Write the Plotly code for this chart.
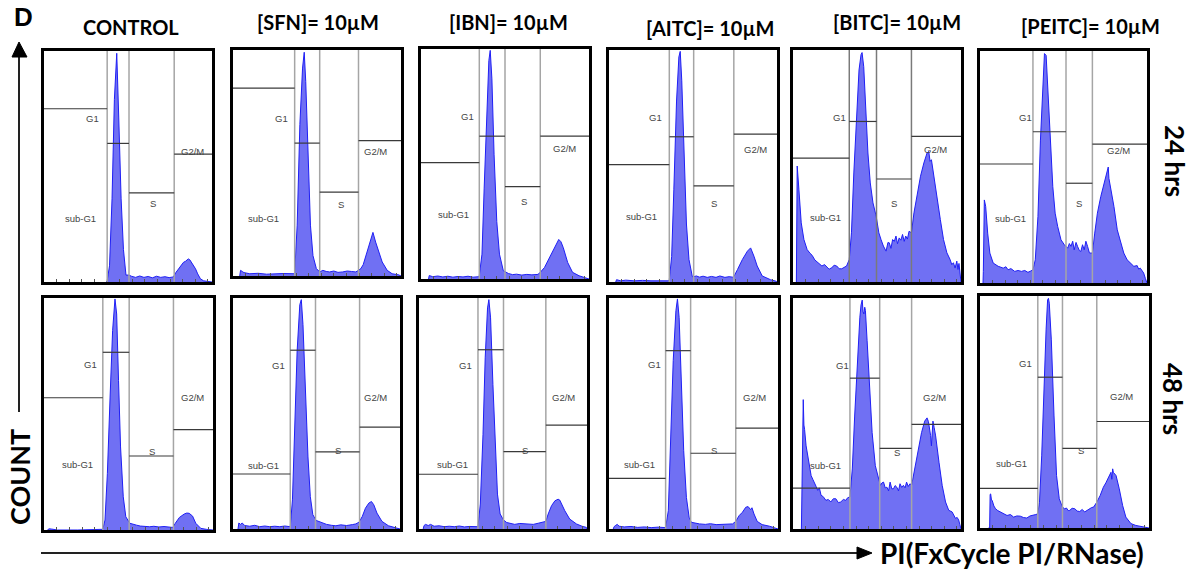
import plotly.graph_objects as go

W, H = 1195, 576

# ---------------- DATA ----------------
# PI channel (0-1000) vs. count (% of max)
ctrl24 = [(370,0),(376,0.5),(390,7),(405,36),(419,79),(433,99),(445,71),(459,36),(473,14),(488,3),(506,3),(520,2.5),(545,2),(570,2.6),(595,2),(620,2.4),(645,1.8),(670,2.5),(695,2),(720,2.3),(745,1.9),(770,2.2),(784,4),(800,5.5),(814,7),(830,8.5),(843,9),(859,10),(868,9.6),(878,8.6),(890,7),(902,5.7),(915,3.5),(931,1.4),(950,0.5),(975,0.3),(1000,0)]
sfn24 = [(40,0),(45,2.5),(55,2),(65,1.5),(100,1),(150,1.2),(200,0.8),(250,1),(300,1.1),(363,1),(367,1.5),(382,22.5),(398,67),(414,92),(424,99),(433,86),(447,52),(461,22.5),(476,9),(496,3.3),(516,1.8),(535,2.5),(555,2),(575,1.8),(600,2.2),(625,1.6),(653,1.8),(680,2.2),(705,2),(731,1.8),(747,2.5),(761,3.3),(775,5),(790,9),(805,13),(820,16.6),(833,19.3),(849,15),(869,10.7),(888,6.2),(918,2.5),(947,1),(986,0.5),(1000,0)]
ibn24 = [(45,0),(49,1.5),(70,1),(100,1.3),(130,0.9),(160,1.2),(190,0.8),(220,1.1),(250,0.9),(280,1.2),(310,0.8),(343,1),(347,1.5),(363,10.8),(376,39.5),(392,75),(404,95),(412,99.4),(422,87),(435,54),(451,25),(467,10.8),(490,3.6),(520,2.4),(545,1.9),(569,2.1),(600,1.7),(630,2),(660,1.8),(696,2),(710,2.9),(735,5),(765,9.3),(794,13.6),(820,17.2),(833,16.2),(847,13.6),(873,7.2),(902,2.9),(941,1.4),(990,0.5),(1000,0)]
aitc24 = [(40,0),(45,1),(70,0.5),(100,0.8),(150,0.5),(200,0.7),(250,0.5),(300,0.6),(355,0.5),(359,1),(373,11),(386,40),(402,78),(416,97),(424,99.4),(433,87),(445,57),(461,25),(476,9.7),(496,2.3),(504,2.3),(520,2.6),(539,2.1),(560,2.5),(585,2),(610,2.4),(637,2),(660,2.6),(690,2),(715,2.3),(735,2.1),(743,2.3),(765,5.4),(794,9.7),(824,13.3),(843,14.7),(863,11.1),(882,6.9),(912,2.6),(961,1),(996,0.3),(1000,0)]
bitc24 = [(20,0),(22,30),(25,50),(35,40),(49,25.5),(65,18.3),(84,14),(100,12.5),(114,11.5),(130,9.5),(143,8.6),(160,7.5),(172,6.9),(188,7.5),(202,6.6),(215,5.5),(231,6.2),(245,7.2),(260,6.9),(275,5.7),(290,5.7),(305,6.5),(319,6.9),(335,9.7),(348,21.2),(362,47),(378,72.8),(393,91.4),(405,98),(411,98.9),(421,92.8),(432,75.6),(446,55.6),(460,42.7),(476,34.1),(495,28.4),(511,21.2),(524,18.3),(538,15.5),(554,13.3),(565,17),(573,16.9),(583,14.5),(593,18.3),(603,17.5),(613,19.8),(622,16.5),(632,19),(642,18),(652,20.5),(662,17.5),(671,19.8),(681,18.5),(691,21.9),(705,21.2),(720,29.8),(740,38.4),(759,45.6),(779,51.3),(790,54.5),(798,55.6),(808,56.3),(816,52),(824,52.7),(838,45.6),(857,35.5),(877,26.9),(896,18.3),(916,12.6),(935,9.7),(945,7.5),(955,8.3),(965,6),(975,9),(982,5.4),(988,8),(992,5.4),(996,0),(1000,0)]
peitc24 = [(18,0),(20,5),(26,35.8),(34,33),(46,21.5),(59,12.9),(79,8.6),(95,7.8),(109,7.2),(125,6.8),(139,6.4),(155,7),(168,5.7),(185,6.2),(208,5),(228,5.4),(248,5),(268,5.4),(287,4.6),(305,5.2),(317,5.7),(331,10),(347,28.7),(362,61.6),(376,86),(386,98.9),(396,98.1),(406,84.5),(422,64.5),(436,41.5),(450,30.1),(465,24.4),(485,18.6),(505,16.5),(525,15),(535,17),(545,15.8),(555,18),(564,14.3),(575,17.5),(584,15.8),(595,14),(604,13.6),(614,16.5),(624,14.3),(634,18),(644,15.8),(655,13),(663,12.9),(673,12.9),(687,21.5),(703,30.1),(723,37.2),(743,43),(756,46),(762,48),(768,50),(772,45.1),(786,40.1),(802,33),(822,22.9),(842,17.2),(861,12.9),(881,10),(901,8.6),(921,7.2),(941,7.5),(950,6),(960,6.4),(970,5),(980,4.3),(990,2),(996,0.7),(1000,0)]
ctrl48 = [(20,0),(30,0.5),(45,0.4),(60,0.2),(80,0),(200,0),(300,0),(344,0),(348,0.3),(361,4.3),(375,24.4),(391,57.3),(406,86),(420,99.6),(430,93.1),(441,64.5),(453,35.8),(469,14.3),(484,5.7),(508,2.9),(530,2.3),(547,2.1),(570,1.7),(600,1.5),(625,1.4),(650,1.6),(680,1.3),(710,1.5),(740,1.2),(762,1.1),(777,2.9),(801,5.4),(830,6.9),(845,7.3),(859,7.2),(879,6),(898,2.9),(928,0.7),(960,0.3),(996,0.2),(1000,0)]
sfn48 = [(30,0),(35,2.6),(45,2),(55,2.6),(70,1.5),(100,1.2),(130,1.6),(160,1),(190,1.3),(220,1),(250,1.2),(280,1),(310,1.3),(331,1),(343,1),(356,12.6),(370,41.3),(384,77.1),(400,97.1),(409,99.3),(419,88.5),(435,55.6),(449,31.2),(463,14),(478,6.2),(498,3.7),(520,3),(537,2.6),(560,2),(590,1.6),(616,1.4),(645,1.8),(680,1.5),(715,1.9),(735,2.2),(754,2.9),(774,5.4),(793,9),(813,11.2),(829,11.9),(843,10.5),(862,6.9),(892,3.3),(931,1.4),(960,0.9),(990,0.5),(1000,0)]
ibn48 = [(25,0),(30,1.5),(39,2),(55,1.5),(69,2),(90,1.2),(120,1.4),(150,1),(180,1.2),(210,1),(240,1.3),(270,0.9),(300,1.1),(345,1),(351,1),(365,10.8),(381,41),(394,74.1),(408,95.7),(416,99.3),(426,91.4),(440,62.6),(454,33.8),(467,15.1),(483,6.5),(503,3.9),(522,2.8),(542,2.4),(570,2),(600,2.4),(641,2.2),(680,2),(710,2.5),(740,2.9),(755,3.3),(769,6.5),(789,10.1),(809,12.2),(828,12.9),(838,12.5),(848,10.8),(868,7.9),(897,4.3),(937,2.2),(970,1.2),(996,0.7),(1000,0)]
aitc48 = [(25,0),(30,1),(40,1.6),(49,2),(60,1.2),(90,0.9),(130,1.1),(170,0.7),(210,0.9),(250,0.6),(290,0.8),(330,0.6),(335,0.6),(351,7.9),(365,36.8),(380,72.9),(396,94.5),(405,99.6),(415,91.6),(429,62.8),(442,33.9),(458,13.7),(474,5.1),(487,2.9),(510,2.5),(536,2.2),(570,2),(600,2.3),(634,1.9),(670,2.1),(700,2),(731,2.2),(750,3.3),(770,5.8),(789,7.2),(809,9.4),(823,9.7),(830,9),(838,8.4),(846,9.2),(858,6.5),(877,3.3),(906,1.9),(950,1.2),(994,0.4),(1000,0)]
bitc48 = [(50,0),(53,20),(57,46),(61,56),(65,45),(69,43.1),(78,36),(92,28.9),(108,23.1),(118,21.5),(127,20.3),(137,18.5),(147,16.7),(157,17.8),(167,14.6),(180,14),(196,12.4),(210,12.8),(225,11.7),(240,13.1),(255,13.1),(270,11.4),(284,11.7),(300,12.8),(314,12.4),(325,13.5),(339,13.9),(353,26),(367,48.9),(382,71.7),(398,91.7),(405,97),(412,99.1),(417,94),(422,93.1),(427,96),(431,94.6),(441,81.7),(457,60.3),(471,41.7),(490,27.4),(510,21.7),(520,18.9),(530,20),(539,20.3),(549,17.8),(559,18.1),(569,16.5),(578,20.3),(588,17.4),(598,17.4),(608,18.8),(618,18.1),(628,16.5),(637,19.6),(647,18),(657,18.9),(667,17.8),(676,20.3),(686,18.4),(696,19.6),(706,18.9),(725,26),(745,34.6),(765,41.7),(784,46.7),(798,48.1),(806,46.5),(814,43.1),(819,40.5),(824,36),(828,42),(833,46.7),(840,44),(849,40.3),(869,28.9),(888,18.9),(908,11.7),(927,8.1),(947,7.4),(957,6),(967,4.6),(977,5),(986,3.9),(993,2),(998,0),(1000,0)]
peitc48 = [(50,0),(57,0),(60,14.5),(63,14.7),(68,12),(72,11.9),(82,9.5),(92,8.3),(105,7.5),(121,6.9),(140,6.2),(160,5.4),(180,5.8),(199,4.7),(218,5.2),(238,5.1),(258,4.5),(277,4.3),(296,5.2),(316,5.4),(330,5.8),(342,6.1),(352,11.1),(365,31.1),(379,62.6),(391,85.4),(400,98.3),(405,99),(410,96.9),(422,81.1),(438,48.3),(453,22.6),(469,12.6),(488,9),(500,8.3),(512,8.6),(522,7.5),(531,7.6),(545,8.5),(561,8.3),(575,7.3),(590,7.1),(605,8),(619,6.9),(634,7.6),(648,8.3),(660,8.8),(672,9),(691,11.1),(711,14),(730,17.6),(745,19.5),(756,21.1),(765,22),(775,24),(780,21),(785,25.5),(789,24),(795,23.5),(805,22.6),(824,16.9),(844,9.7),(863,4.7),(893,1.9),(922,1.1),(950,0.8),(980,0.5),(1000,0)]

# gate boundaries (channel): sub-G1|G1, G1|S, S|G2/M
gate_bounds = [
    [376, 506, 775], [367, 516, 747], [347, 500, 710], [359, 504, 743], [335, 497, 705], [317, 515, 673],
    [348, 504, 766], [343, 494, 758], [351, 503, 755], [335, 483, 750], [339, 516, 706], [342, 488, 691],
]
# gate marker heights (% of max): sub-G1, G1, S, G2/M
gate_levels = [
    [75, 60, 38.6, 55.4], [83.1, 58.8, 37.1, 59.9], [50.6, 62.1, 40.2, 62.1], [50.6, 62.6, 41.4, 63.7],
    [53.4, 69.2, 44.4, 62.8], [51.3, 65.2, 43, 59.9],
    [57, 76.6, 31.9, 43.3], [23.8, 77.4, 33.4, 44.1], [23.7, 77.6, 33.5, 45], [21.9, 77.2, 32.8, 43.7],
    [17.7, 65.3, 34.9, 45.3], [17.1, 65, 34.3, 45.9],
]
gate_names = ["sub-G1", "G1", "S", "G2/M"]
treatments = ["CONTROL", "[SFN]= 10µM", "[IBN]= 10µM", "[AITC]= 10µM", "[BITC]= 10µM", "[PEITC]= 10µM"]
times = ["24 hrs", "48 hrs"]
histograms = [ctrl24, sfn24, ibn24, aitc24, bitc24, peitc24, ctrl48, sfn48, ibn48, aitc48, bitc48, peitc48]

# ---------------- LAYOUT (pixels) ----------------
boxes = [
    (41, 215, 48, 285), (230, 404, 47, 279), (418, 592, 46, 282), (606, 780, 47, 285), (790, 964, 47, 285), (977, 1150, 48, 286),
    (41, 216, 295, 533), (230, 403, 295, 532), (416, 590, 295, 532), (606, 781, 295, 532), (790, 964, 295, 532), (977, 1152, 293, 531),
]
# label positions (channel, %) for sub-G1, G1, S, G2/M
label_pos = [
    [(216, 27.4), (290, 70.7), (647, 34), (882, 56.7)],
    [(180, 25.5), (290, 69.6), (643, 31.5), (849, 55.2)],
    [(196, 28), (278, 70.7), (612, 33.7), (853, 56.7)],
    [(196, 28.3), (275, 70.9), (627, 33.7), (873, 56.9)],
    [(192, 27.9), (276, 70.9), (603, 33.8), (847, 57)],
    [(182, 27.9), (271, 71.3), (594, 34.1), (832, 57)],
    [(199, 28.4), (277, 71.3), (639, 34), (879, 57.3)],
    [(183, 27.7), (272, 70.9), (626, 34.1), (852, 57)],
    [(197, 27.8), (276, 70.9), (631, 33.8), (862, 57.1)],
    [(181, 27.8), (267, 71.1), (624, 33.9), (858, 57)],
    [(196, 27.7), (294, 70.6), (618, 33.1), (843, 57.1)],
    [(184, 27.6), (268, 70.9), (596, 33.3), (840, 56.6)],
]
title_pos = [(131, 27), (318, 22), (508, 22), (710, 28), (897, 22), (1090, 26)]

def px(x):
    return x / W

def py(y):
    return 1 - y / H

fig = go.Figure()
layout = dict(
    width=W, height=H, margin=dict(l=0, r=0, t=0, b=0),
    paper_bgcolor="white", plot_bgcolor="white", showlegend=False,
)
shapes = []
annotations = []

for i, (hist, box) in enumerate(zip(histograms, boxes)):
    n = i + 1
    xa = "x" if n == 1 else f"x{n}"
    ya = "y" if n == 1 else f"y{n}"
    l, r, t, b = box
    layout[f"xaxis{n if n > 1 else ''}"] = dict(
        domain=[px(l + 3), px(r - 3)], range=[0, 1000], anchor=ya,
        showgrid=False, zeroline=False, showticklabels=False,
        showline=True, mirror=True, linecolor="black", linewidth=3,
        ticks="inside", ticklen=3, tickwidth=1, tickcolor="#555",
        tickvals=list(range(0, 1001, 75)),
    )
    layout[f"yaxis{n if n > 1 else ''}"] = dict(
        domain=[py(b - 3), py(t + 3)], range=[0, 100], anchor=xa,
        showgrid=False, zeroline=False, showticklabels=False,
        showline=True, mirror=True, linecolor="black", linewidth=3, ticks="",
    )
    hx = [p[0] for p in hist]
    hy = [p[1] for p in hist]
    fig.add_trace(go.Scatter(
        x=hx, y=hy, xaxis=xa, yaxis=ya, mode="lines", fill="tozeroy",
        line=dict(color="#1f1ff5", width=1), fillcolor="rgba(100,100,242,0.92)",
        hoverinfo="skip",
    ))
    v1, v2, v3 = gate_bounds[i]
    hs, hg1, hsph, hg2 = gate_levels[i]
    vcol = "#7a7a7a" if i in (4,) else "#a5a5a5"
    for v in (v1, v2, v3):
        shapes.append(dict(type="line", xref=xa, yref=ya, x0=v, x1=v, y0=0, y1=100,
                           line=dict(color=vcol, width=1.5)))
    segs = [(0, v1, hs), (v1, v2, hg1), (v2, v3, hsph), (v3, 1000, hg2)]
    for x0, x1, yy in segs:
        shapes.append(dict(type="line", xref=xa, yref=ya, x0=x0, x1=x1, y0=yy, y1=yy,
                           line=dict(color="#3a3a3a", width=1.2)))
    for name, (lx, ly) in zip(gate_names, label_pos[i]):
        annotations.append(dict(x=lx, y=ly, xref=xa, yref=ya, text=name, showarrow=False,
                                font=dict(family="Liberation Sans", size=9.5, color="#444"),
                                xanchor="center", yanchor="middle"))

# column titles
for name, (tx, ty) in zip(treatments, title_pos):
    annotations.append(dict(x=px(tx), y=py(ty), xref="paper", yref="paper", text=f"<b>{name}</b>",
                            showarrow=False, font=dict(family="Lato", size=20, color="black"),
                            xanchor="center", yanchor="middle"))
# time labels
for name, (tx, ty) in zip(times, [(1175, 161), (1173, 399)]):
    annotations.append(dict(x=px(tx), y=py(ty), xref="paper", yref="paper", text=f"<b>{name}</b>",
                            showarrow=False, textangle=90, font=dict(family="Lato", size=26, color="black"),
                            xanchor="center", yanchor="middle"))
# panel letter
annotations.append(dict(x=px(23), y=py(17), xref="paper", yref="paper", text="<b>D</b>", showarrow=False,
                        font=dict(family="Liberation Sans", size=26, color="black"),
                        xanchor="center", yanchor="middle"))
# axis titles
annotations.append(dict(x=px(19), y=py(477), xref="paper", yref="paper", text="<b>COUNT</b>", showarrow=False,
                        textangle=-90, font=dict(family="Lato", size=27, color="black"),
                        xanchor="center", yanchor="middle"))
annotations.append(dict(x=px(878), y=py(553), xref="paper", yref="paper", text="<b>PI(FxCycle PI/RNase)</b>",
                        showarrow=False, font=dict(family="Lato", size=28, color="black"),
                        xanchor="left", yanchor="middle"))

# arrows
shapes.append(dict(type="line", xref="paper", yref="paper", x0=px(19), x1=px(19), y0=py(412), y1=py(55),
                   line=dict(color="#222", width=2)))
shapes.append(dict(type="path", xref="paper", yref="paper",
                   path=f"M {px(19)} {py(42)} L {px(12)} {py(57)} L {px(27)} {py(57)} Z",
                   fillcolor="black", line=dict(color="black", width=1)))
shapes.append(dict(type="line", xref="paper", yref="paper", x0=px(41), x1=px(860), y0=py(553), y1=py(553),
                   line=dict(color="#222", width=2)))
shapes.append(dict(type="path", xref="paper", yref="paper",
                   path=f"M {px(872)} {py(553)} L {px(857)} {py(547)} L {px(857)} {py(559)} Z",
                   fillcolor="black", line=dict(color="black", width=1)))

layout["shapes"] = shapes
layout["annotations"] = annotations
fig.update_layout(**layout)
fig.write_html("out.html")
